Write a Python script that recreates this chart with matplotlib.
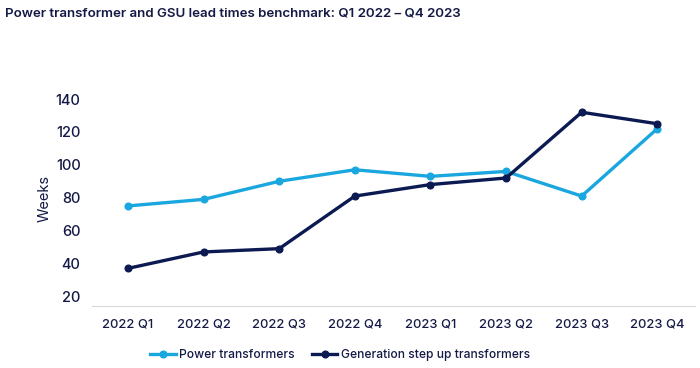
import matplotlib.pyplot as plt

quarters = ['2022 Q1', '2022 Q2', '2022 Q3', '2022 Q4',
            '2023 Q1', '2023 Q2', '2023 Q3', '2023 Q4']
power_transformers = [75, 79, 90, 97, 93, 96, 81, 122]
gsu_transformers = [37, 47, 49, 81, 88, 92, 132, 125]
y_ticks = [20, 40, 60, 80, 100, 120, 140]

LIGHT = '#1aa7df'
NAVY = '#0c1a52'
TEXT = '#141a45'

plt.rcParams['font.family'] = ['Inter', 'DejaVu Sans']

fig = plt.figure(figsize=(7, 3.68), dpi=100)
ax = fig.add_axes([0.131, 0.168, 0.862, 0.585])

x = range(len(quarters))
ax.plot(x, power_transformers, color=LIGHT, lw=2.4, marker='o', ms=4.8,
        label='Power transformers')
ax.plot(x, gsu_transformers, color=NAVY, lw=2.4, marker='o', ms=4.8,
        label='Generation step up transformers')

ax.set_xlim(-0.48, 7.5)
ax.set_ylim(14, 145)
ax.set_xticks(list(x))
ax.set_xticklabels(quarters, fontweight='medium')
ax.set_yticks(y_ticks)
ax.set_yticklabels([str(v) for v in y_ticks], fontweight='medium')
ax.tick_params(length=0, colors=TEXT)
ax.tick_params(axis='x', pad=9, labelsize=9.3)
ax.tick_params(axis='y', pad=8, labelsize=10.5)
ax.set_ylabel('Weeks', fontsize=10.5, color=TEXT, labelpad=3)

for side in ['top', 'right', 'left']:
    ax.spines[side].set_visible(False)
ax.spines['bottom'].set_color('#d9d9d9')

fig.text(0.007, 0.963, 'Power transformer and GSU lead times benchmark: Q1 2022 \u2013 Q4 2023',
         fontsize=9.6, fontweight='semibold', color=TEXT, va='center', ha='left')

fig.legend(loc='center', bbox_to_anchor=(0.486, 0.036), ncol=2, frameon=False,
           prop={'size': 8.7, 'weight': 'medium'}, handlelength=2.1,
           columnspacing=1.4, handletextpad=0.3, labelcolor=TEXT)

fig.savefig('out.png', dpi=100)
